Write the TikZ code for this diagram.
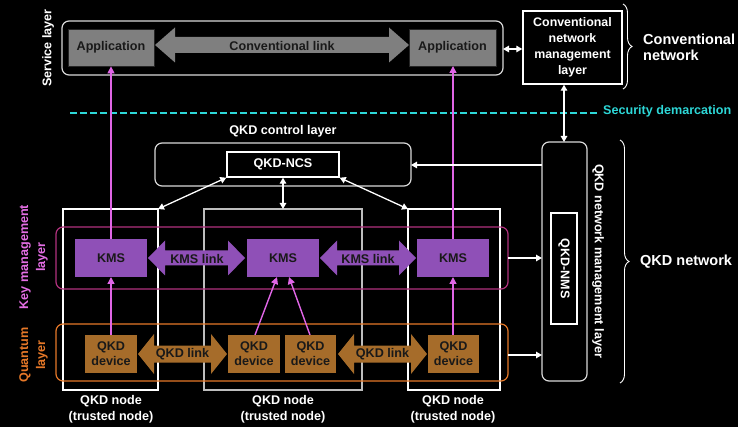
\documentclass[tikz,border=0pt]{standalone}
\usepackage{fontspec}
\setmainfont{Liberation Sans}
\usetikzlibrary{arrows.meta,decorations.pathreplacing}

\definecolor{appgray}{RGB}{127,127,127}
\definecolor{kmspurple}{RGB}{143,80,183}
\definecolor{devbrown}{RGB}{166,108,42}
\definecolor{keyline}{RGB}{178,50,126}
\definecolor{keytext}{RGB}{228,110,228}
\definecolor{pinkarrow}{RGB}{224,102,230}
\definecolor{quantorange}{RGB}{230,120,40}
\definecolor{seccyan}{RGB}{45,215,215}
\definecolor{midgray}{RGB}{190,190,190}
\definecolor{darktext}{RGB}{25,25,25}

% filled double-headed link arrow:
% #1 fill, #2 left tip x, #3 right tip x, #4 centre y, #5 shaft half height, #6 head half height, #7 head length
\newcommand\linkshape[7]{%
  \fill[#1] (#2,#4) -- (#2+#7,#4-#6) -- (#2+#7,#4-#5) -- (#3-#7,#4-#5) -- (#3-#7,#4-#6)
    -- (#3,#4) -- (#3-#7,#4+#6) -- (#3-#7,#4+#5) -- (#2+#7,#4+#5) -- (#2+#7,#4+#6) -- cycle;}

\begin{document}
\begin{tikzpicture}[x=1pt,y=-1pt,
  txt/.style={font=\fontsize{12.6}{15}\selectfont\bfseries, inner sep=0pt, align=center},
  wtxt/.style={txt, text=white},
  dtxt/.style={txt, text=darktext},
  layerbox/.style={rounded corners=7pt, line width=1.2pt},
  whitebox/.style={draw=white, line width=1.4pt},
  appbox/.style={dtxt, fill=appgray, draw=black!70!appgray, line width=0.8pt, minimum width=86pt, minimum height=37pt},
  kmsbox/.style={dtxt, fill=kmspurple, minimum width=72pt, minimum height=38pt},
  devbox/.style={dtxt, fill=devbrown, minimum width=52pt, minimum height=38pt},
  warrow/.style={draw=white, line width=1.3pt, -{Triangle[length=6pt,width=6.5pt]}},
  wdarrow/.style={draw=white, line width=1.3pt, {Triangle[length=6pt,width=6.5pt]}-{Triangle[length=6pt,width=6.5pt]}},
  parrow/.style={draw=pinkarrow, line width=1.4pt, -{Triangle[length=7pt,width=7pt]}},
  bracestyle/.style={draw=white, line width=0.9pt, decorate, decoration={brace, amplitude=9pt}}
]
% canvas
\fill[black] (0,0) rectangle (738,427);
\useasboundingbox (0,0) rectangle (738,427);

% ---------- service layer ----------
\draw[layerbox, draw=white!85!black] (62,21) rectangle (503,75);
\linkshape{appgray}{155}{409}{45}{8}{17.5}{20}
\node[dtxt] (convlink) at (282,46) {Conventional link};
\node[appbox] (appL) at (111,47.5) {Application};
\node[appbox, minimum width=87pt] (appR) at (452.5,47.5) {Application};
\node[wtxt, rotate=90] (servlbl) at (48,48) {Service layer};

% conventional network management
\node[wtxt, whitebox, fill=black, minimum width=99pt, minimum height=73pt, font=\fontsize{12.4}{16}\selectfont\bfseries]
  (cnm) at (572.5,47.5) {Conventional\\network\\management\\layer};
\coordinate (servR) at (503,49);
\draw[wdarrow] (servR) -- (cnm.west |- servR);
\draw[bracestyle] (623,4) -- (623,89);
\node[wtxt, anchor=west, align=left, font=\fontsize{14.5}{16}\selectfont\bfseries] (convnet) at (643,47) {Conventional\\network};

% ---------- security demarcation ----------
\coordinate (secL) at (70,113);
\coordinate (secR) at (597,113);
\draw[seccyan, line width=2pt, dash pattern=on 7pt off 3pt] (secL) -- (secR);
\node[txt, text=seccyan, anchor=west] (seclbl) at (603,111) {Security demarcation};

% ---------- QKD nodes ----------
\draw[whitebox] (63,209) rectangle (158,390);
\draw[whitebox, draw=midgray] (204,209) rectangle (362,390);
\draw[whitebox] (408,209) rectangle (500,390);
\coordinate (nodeLtr) at (158,209);
\coordinate (nodeMtop) at (283,209);
\coordinate (nodeRtl) at (408,209);

% ---------- layers ----------
\draw[layerbox, draw=keyline] (56,227) rectangle (508,289);
\draw[layerbox, draw=quantorange] (56,324) rectangle (508,381);
\coordinate (keyR) at (508,258);
\coordinate (quantR) at (508,355);

\node[txt, text=keytext, rotate=90, font=\fontsize{12.6}{17}\selectfont\bfseries] (keylbl) at (33.5,257) {Key management\\layer};
\node[txt, text=quantorange, rotate=90, font=\fontsize{12.6}{17}\selectfont\bfseries] (quantlbl) at (33.5,355) {Quantum\\layer};

% ---------- QKD control layer ----------
\node[wtxt] (ctrllbl) at (283,131) {QKD control layer};
\draw[layerbox, draw=white!85!black] (155,143) rectangle (411,186);
\node[wtxt, whitebox, minimum width=112pt, minimum height=25pt] (ncs) at (283,164.5) {QKD-NCS};
\coordinate (ctrlR) at (411,165);

% ---------- QKD network management layer ----------
\draw[layerbox, draw=white!85!black] (542,142) rectangle (587,381);
\coordinate (nmsTop) at (564,142);
\coordinate (nmsCtl) at (542,165);
\coordinate (nmsKey) at (542,258);
\coordinate (nmsQnt) at (542,355);
\node[wtxt, whitebox, rotate=-90, minimum width=111pt, minimum height=26pt] (nms) at (564,268.5) {QKD-NMS};
\node[wtxt, rotate=-90] (nmslbl) at (598,261) {QKD network management layer};
\draw[bracestyle] (620,140) -- (620,383);
\node[wtxt, anchor=west, font=\fontsize{14.5}{16}\selectfont\bfseries] (qkdnet) at (640,262) {QKD network};

% ---------- pink vertical connectors ----------
\coordinate (devLt) at (111,335);
\coordinate (devM1t) at (255,335);
\coordinate (devM2t) at (310,335);
\coordinate (devRt) at (453,335);
\draw[parrow] (devLt) -- (111,277);
\draw[parrow] (111,239) -- (appL.south);
\draw[parrow] (devRt) -- (453,277);
\draw[parrow] (453,239) -- (453,66);
\draw[parrow] (devM1t) -- (277,277);
\draw[parrow] (devM2t) -- (289,277);

% ---------- link arrows ----------
\linkshape{kmspurple}{148}{245}{258}{7.5}{17.5}{17}
\linkshape{kmspurple}{320}{416}{258}{7.5}{17.5}{17}
\node[dtxt] (kmslink1) at (197,258.5) {KMS link};
\node[dtxt] (kmslink2) at (368,258.5) {KMS link};
\linkshape{devbrown}{138}{227}{354}{8.5}{20}{16}
\linkshape{devbrown}{338}{427}{354}{8.5}{20}{16}
\node[dtxt] (qkdlink1) at (182.5,354.5) {QKD link};
\node[dtxt] (qkdlink2) at (382.5,354.5) {QKD link};

% ---------- KMS and QKD devices ----------
\node[kmsbox] (kmsL) at (111,258) {KMS};
\node[kmsbox] (kmsM) at (283,258) {KMS};
\node[kmsbox] (kmsR) at (453,258) {KMS};
\node[devbox] (devL) at (111,354) {QKD\\device};
\node[devbox] (devM1) at (254,354) {QKD\\device};
\node[devbox, minimum width=51pt] (devM2) at (310.5,354) {QKD\\device};
\node[devbox, minimum width=51pt] (devR) at (453.5,354) {QKD\\device};

% ---------- white management connectors ----------
\draw[wdarrow] (nmsTop) -- (cnm.south -| nmsTop);
\draw[warrow] (nmsCtl) -- (ctrlR);
\draw[wdarrow] (ncs.south west) -- (nodeLtr);
\draw[wdarrow] (ncs.south) -- (nodeMtop);
\draw[wdarrow] (ncs.south east) -- (nodeRtl);
\draw[warrow] (keyR) -- (nmsKey);
\draw[warrow] (quantR) -- (nmsQnt);

% ---------- node captions ----------
\node[wtxt, font=\fontsize{12.6}{16}\selectfont\bfseries] (capL) at (111,409) {QKD node\\(trusted node)};
\node[wtxt, font=\fontsize{12.6}{16}\selectfont\bfseries] (capM) at (283,409) {QKD node\\(trusted node)};
\node[wtxt, font=\fontsize{12.6}{16}\selectfont\bfseries] (capR) at (453,409) {QKD node\\(trusted node)};
\end{tikzpicture}
\end{document}
